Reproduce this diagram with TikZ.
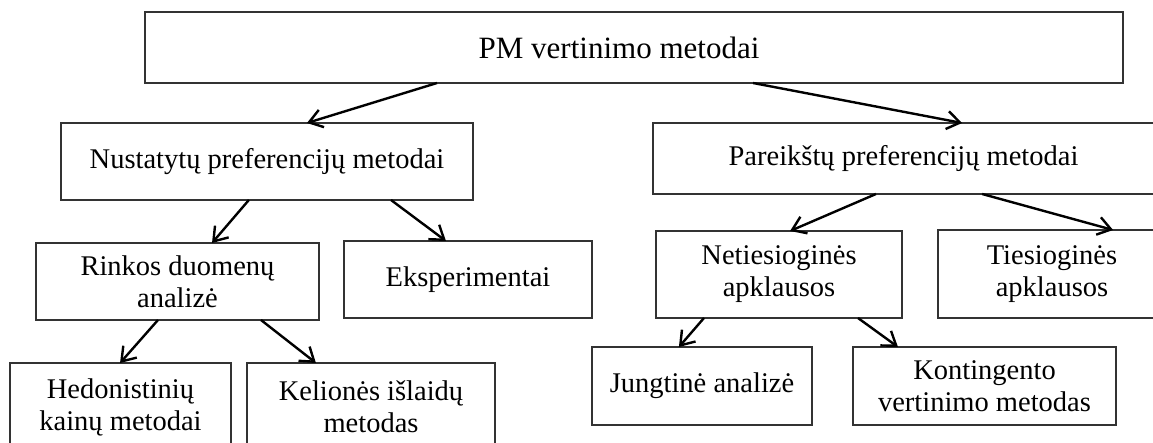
\documentclass[tikz,border=0pt]{standalone}
\usepackage{fontspec}
\setmainfont{Liberation Serif}
\usetikzlibrary{arrows.meta,calc}
\tikzset{
  box/.style={draw=black!80, line width=1.4pt, inner sep=0pt, outer sep=0pt, anchor=north west, align=center, font={\fontsize{28.5}{32}\selectfont}},
  conn/.style={draw=black, line width=2.4pt, -{Straight Barb[length=13pt,width=18pt]}}
}
\begin{document}
\begin{tikzpicture}[x=1pt,y=-1pt]
\useasboundingbox (0,0) rectangle (1153,443);
\node[box, minimum width=978pt, minimum height=71pt, font={\fontsize{31}{34}\selectfont}] (top) at (145,12) {PM vertinimo metodai\hspace{30pt}};
\node[box, minimum width=412pt, minimum height=77pt] (nust) at (61,123) {Nustatytų preferencijų metodai};
\node[box, minimum width=501pt, minimum height=71pt] (par) at (653,123) {Pareikštų preferencijų metodai};
\node[box, minimum width=283pt, minimum height=77pt] (rink) at (36,243) {Rinkos duomenų\\analizė};
\node[box, minimum width=248pt, minimum height=77pt] (eksp) at (344,241) {Eksperimentai};
\node[box, minimum width=246pt, minimum height=87pt] (net) at (656,231) {Netiesioginės\\apklausos};
\node[box, minimum width=228pt, minimum height=88pt] (ties) at (938,230) {Tiesioginės\\apklausos};
\node[box, minimum width=221pt, minimum height=88pt] (hed) at (10,363) {Hedonistinių\\kainų metodai};
\node[box, minimum width=248pt, minimum height=88pt] (kel) at (247,363) {Kelionės išlaidų\\metodas};
\node[box, minimum width=220pt, minimum height=78pt] (jung) at (592,347) {Jungtinė analizė};
\node[box, minimum width=263pt, minimum height=78pt] (kont) at (853,347) {Kontingento\\vertinimo metodas};
% connectors
\draw[conn] ($(top.south west)!0.2986!(top.south east)$) -- ($(nust.north west)!0.597!(nust.north east)$);
\draw[conn] ($(top.south west)!0.6217!(top.south east)$) -- ($(par.north west)!0.617!(par.north east)$);
\draw[conn] ($(nust.south west)!0.456!(nust.south east)$) -- ($(rink.north west)!0.622!(rink.north east)$);
\draw[conn] ($(nust.south west)!0.801!(nust.south east)$) -- ($(eksp.north west)!0.411!(eksp.north east)$);
\draw[conn] ($(rink.south west)!0.431!(rink.south east)$) -- ($(hed.north west)!0.498!(hed.north east)$);
\draw[conn] ($(rink.south west)!0.795!(rink.south east)$) -- ($(kel.north west)!0.278!(kel.north east)$);
\draw[conn] ($(par.south west)!0.445!(par.south east)$) -- ($(net.north west)!0.545!(net.north east)$);
\draw[conn] ($(par.south west)!0.657!(par.south east)$) -- ($(ties.north west)!0.768!(ties.north east)$);
\draw[conn] ($(net.south west)!0.195!(net.south east)$) -- ($(jung.north west)!0.395!(jung.north east)$);
\draw[conn] ($(net.south west)!0.821!(net.south east)$) -- ($(kont.north west)!0.171!(kont.north east)$);
\end{tikzpicture}
\end{document}
